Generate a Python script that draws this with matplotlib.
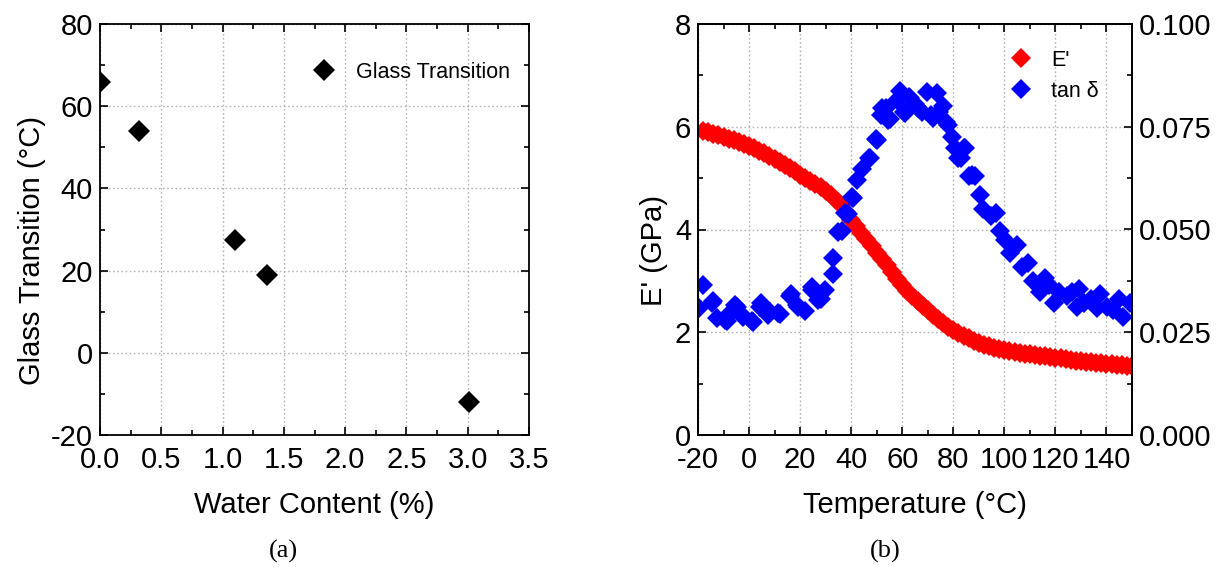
import matplotlib
matplotlib.use('Agg')
import matplotlib.pyplot as plt
import matplotlib.ticker as mtick
import numpy as np

plt.rcParams['font.family'] = ['Liberation Sans', 'DejaVu Sans']
plt.rcParams['axes.unicode_minus'] = False

# (a) glass transition vs water content
water = [0.0, 0.32, 1.10, 1.36, 3.01]
tg = [66, 54, 27.5, 19, -12]

# (b) DMA: storage modulus
temp_e = [-18, -16, -14, -12, -10, -8, -6, -4, -2, 0, 2, 4, 6, 8, 10, 12, 14, 16, 18, 20,
          22, 24, 26, 28, 30, 32, 34, 36, 38, 40, 42, 44, 46, 48, 50, 52, 54, 56, 58, 60,
          62, 64, 66, 68, 70, 72, 74, 76, 78, 80, 82, 84, 86, 88, 90, 92, 94, 96, 98, 100,
          102, 104, 106, 108, 110, 112, 114, 116, 118, 120, 122, 124, 126, 128, 130, 132,
          134, 136, 138, 140, 142, 144, 146, 148, 150]
e_mod = [5.91, 5.89, 5.86, 5.83, 5.80, 5.77, 5.74, 5.70, 5.67, 5.63, 5.58, 5.53, 5.48, 5.43,
         5.38, 5.32, 5.26, 5.20, 5.14, 5.07, 5.01, 4.95, 4.88, 4.82, 4.75, 4.67, 4.58, 4.48,
         4.34, 4.19, 4.07, 3.94, 3.81, 3.68, 3.55, 3.42, 3.30, 3.17, 3.04, 2.92, 2.81, 2.71,
         2.61, 2.52, 2.43, 2.34, 2.26, 2.18, 2.11, 2.04, 1.98, 1.93, 1.88, 1.83, 1.79, 1.76,
         1.73, 1.70, 1.67, 1.65, 1.63, 1.61, 1.59, 1.58, 1.57, 1.56, 1.54, 1.53, 1.51, 1.50,
         1.49, 1.48, 1.46, 1.45, 1.44, 1.43, 1.42, 1.41, 1.40, 1.39, 1.38, 1.37, 1.36, 1.35,
         1.34]

# (b) DMA: tan delta
temp_t = [-19.6, -18.2, -14.6, -14.0, -12.7, -9.4, -8.5, -7.5, -5.7, -4.8, -3.0, -2.3, 1.2, 1.7,
          4.3, 4.6, 7.5, 8.1, 11.5, 12.3, 16.0, 16.4, 18.7, 19.2, 21.9, 24.5, 24.7, 27.1, 28.2,
          29.7, 33.0, 33.0, 35.0, 36.5, 37.6, 38.6, 40.2, 40.6, 42.2, 44.1, 46.9, 47.4, 49.6,
          50.0, 51.7, 52.0, 53.8, 54.5, 55.2, 57.9, 59.1, 60.7, 61.1, 62.8, 63.0, 64.9, 66.3,
          67.6, 69.6, 71.1, 72.2, 73.5, 74.5, 76.0, 77.3, 78.0, 79.4, 80.8, 82.0, 82.9, 84.2,
          84.6, 86.3, 87.2, 88.4, 90.5, 91.8, 94.6, 96.7, 98.1, 100.2, 102.2, 105.0, 107.1,
          109.2, 111.2, 114.0, 116.1, 117.5, 119.5, 121.6, 124.4, 126.5, 128.5, 129.2, 131.3,
          134.1, 136.1, 137.5, 140.3, 142.4, 145.1, 146.5, 149.3]
tan_d = [0.0310, 0.0364, 0.0320, 0.0325, 0.0284, 0.0280, 0.0277, 0.0296, 0.0317, 0.0312,
         0.0295, 0.0288, 0.0277, 0.0276, 0.0312, 0.0321, 0.0292, 0.0299, 0.0296, 0.0295,
         0.0337, 0.0343, 0.0316, 0.0312, 0.0302, 0.0353, 0.0361, 0.0328, 0.0330, 0.0352,
         0.0430, 0.0392, 0.0495, 0.0497, 0.0539, 0.0537, 0.0580, 0.0576, 0.0620, 0.0648,
         0.0673, 0.0673, 0.0721, 0.0718, 0.0778, 0.0795, 0.0796, 0.0766, 0.0770, 0.0814,
         0.0837, 0.0787, 0.0783, 0.0822, 0.0819, 0.0805, 0.0795, 0.0787, 0.0835, 0.0778,
         0.0771, 0.0831, 0.0787, 0.0800, 0.0761, 0.0754, 0.0726, 0.0699, 0.0673, 0.0673,
         0.0699, 0.0698, 0.0629, 0.0633, 0.0629, 0.0585, 0.0550, 0.0532, 0.0541, 0.0497,
         0.0475, 0.0444, 0.0462, 0.0409, 0.0418, 0.0374, 0.0347, 0.0383, 0.0365, 0.0321,
         0.0347, 0.0339, 0.0347, 0.0312, 0.0356, 0.0321, 0.0330, 0.0308, 0.0343, 0.0312,
         0.0303, 0.0330, 0.0286, 0.0321]

FS = 21
LFS = 15.5
grid_kw = dict(color='#b4b4b4', linestyle=(0, (1.2, 1.8)), linewidth=1.0)


def style_axis(ax):
    ax.tick_params(which='both', direction='in', top=True, labelsize=FS, width=1.2)
    ax.tick_params(which='major', length=6, pad=5)
    ax.tick_params(which='minor', length=3.5)
    ax.tick_params(axis='x', which='major', pad=8)
    for s in ax.spines.values():
        s.set_linewidth(1.3)
    ax.grid(True, which='major', **grid_kw)
    ax.set_axisbelow(True)


fig = plt.figure(figsize=(12.16, 5.67), dpi=100)

# panel (a)
ax1 = fig.add_axes([100 / 1216, 132 / 567, 429 / 1216, 411 / 567])
ax1.plot(water, tg, linestyle='none', marker='D', markersize=11, color='black',
         markeredgewidth=0, label='Glass Transition')
ax1.set_xlim(0, 3.5)
ax1.set_ylim(-20, 80)
ax1.xaxis.set_major_locator(mtick.MultipleLocator(0.5))
ax1.xaxis.set_minor_locator(mtick.MultipleLocator(0.25))
ax1.xaxis.set_major_formatter(mtick.FormatStrFormatter('%.1f'))
ax1.yaxis.set_major_locator(mtick.MultipleLocator(20))
ax1.yaxis.set_minor_locator(mtick.MultipleLocator(10))
style_axis(ax1)
ax1.tick_params(right=True, which='both')
ax1.set_xlabel('Water Content (%)', fontsize=FS, labelpad=12)
ax1.set_ylabel('Glass Transition (°C)', fontsize=FS)
ax1.yaxis.set_label_coords(-0.125, 0.45)
ax1.legend(loc='center left', bbox_to_anchor=(0.497, 0.883), frameon=False,
           fontsize=LFS, handlelength=1.0, handletextpad=1.0, borderpad=0,
           borderaxespad=0, numpoints=1)
fig.text(283 / 1216, 1 - 551 / 567, '(a)', family='Liberation Serif', fontsize=19,
         ha='center', va='center')

# panel (b)
ax2 = fig.add_axes([698 / 1216, 132 / 567, 434 / 1216, 411 / 567])
ax2.plot(temp_e, e_mod, linestyle='none', marker='D', markersize=10.5, color='#ff0000',
         markeredgewidth=0, label="E'")
ax2.set_xlim(-20, 150)
ax2.set_ylim(0, 8)
ax2.xaxis.set_major_locator(mtick.MultipleLocator(20))
ax2.xaxis.set_minor_locator(mtick.MultipleLocator(10))
ax2.yaxis.set_major_locator(mtick.MultipleLocator(2))
ax2.yaxis.set_minor_locator(mtick.MultipleLocator(1))
style_axis(ax2)
ax2.set_xlabel('Temperature (°C)', fontsize=FS, labelpad=12)
ax2.set_ylabel("E' (GPa)", fontsize=FS)
ax2.yaxis.set_label_coords(-0.07, 0.45)

ax3 = ax2.twinx()
ax3.plot(temp_t, tan_d, linestyle='none', marker='D', markersize=10, color='#0000ff',
         markeredgewidth=0, label='tan δ')
ax3.set_ylim(0, 0.1)
ax3.yaxis.set_major_locator(mtick.MultipleLocator(0.025))
ax3.yaxis.set_minor_locator(mtick.MultipleLocator(0.0125))
ax3.yaxis.set_major_formatter(mtick.FormatStrFormatter('%.3f'))
ax3.tick_params(which='both', direction='in', labelsize=FS, width=1.2)
ax3.tick_params(which='major', length=6, pad=5)
ax3.tick_params(which='minor', length=3.5)
for s in ax3.spines.values():
    s.set_linewidth(1.3)

h1, l1 = ax2.get_legend_handles_labels()
h2, l2 = ax3.get_legend_handles_labels()
ax3.legend(h1 + h2, l1 + l2, loc='center left', bbox_to_anchor=(0.72, 0.874),
           frameon=False, fontsize=LFS, handlelength=1.0, handletextpad=0.9,
           borderpad=0, borderaxespad=0, labelspacing=0.45, numpoints=1)
fig.text(885 / 1216, 1 - 551 / 567, '(b)', family='Liberation Serif', fontsize=19,
         ha='center', va='center')

plt.savefig('out.png', dpi=100)
